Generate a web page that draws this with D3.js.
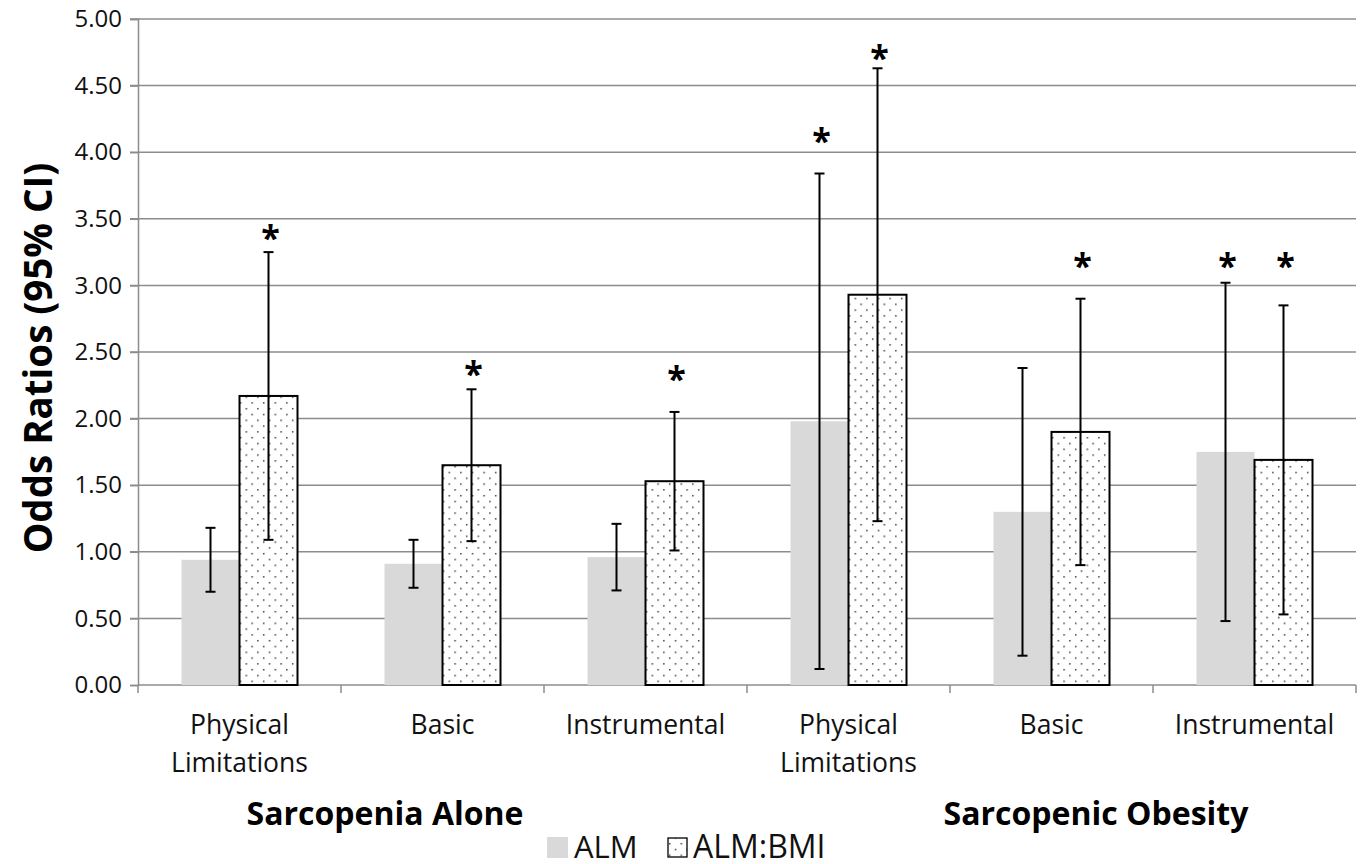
<!DOCTYPE html>
<html>
<head>
<meta charset="utf-8">
<script src="https://cdn.jsdelivr.net/npm/d3@7"></script>
<style>
  body { margin: 0; background: #fff; }
  svg { display: block; font-family: "Open Sans", sans-serif; }
</style>
</head>
<body>
<svg id="chart" width="1363" height="864"></svg>
<script>
// categories and series
const categories = ["Physical Limitations", "Basic", "Instrumental", "Physical Limitations ", "Basic ", "Instrumental "];
const catLines = [["Physical", "Limitations"], ["Basic"], ["Instrumental"], ["Physical", "Limitations"], ["Basic"], ["Instrumental"]];
const series = ["ALM", "ALM:BMI"];
const almOR = [0.94, 0.91, 0.96, 1.98, 1.30, 1.75];
const almLo = [0.70, 0.73, 0.71, 0.12, 0.22, 0.48];
const almHi = [1.18, 1.09, 1.21, 3.84, 2.38, 3.02];
const bmiOR = [2.17, 1.65, 1.53, 2.93, 1.90, 1.69];
const bmiLo = [1.09, 1.08, 1.01, 1.23, 0.90, 0.53];
const bmiHi = [3.25, 2.22, 2.05, 4.63, 2.90, 2.85];
// asterisk heights (value units), null = none
const almStar = [null, null, null, 4.14, null, 3.20];
const bmiStar = [3.41, 2.39, 2.35, 4.76, 3.20, 3.20];
const yTicks = [0, 0.5, 1, 1.5, 2, 2.5, 3, 3.5, 4, 4.5, 5];
const groups = ["Sarcopenia Alone", "Sarcopenic Obesity"];

const svg = d3.select("#chart");
const mLeft = 138, mRight = 1356, mTop = 19, mBottom = 685;

const x = d3.scaleBand().domain(categories).range([mLeft, mRight]);
const xs = d3.scaleBand().domain(series).range([0, x.bandwidth()]).paddingInner(0).paddingOuter(0.75);
const y = d3.scaleLinear().domain([0, 5]).range([mBottom, mTop]);

const defs = svg.append("defs");
const pat = defs.append("pattern").attr("id", "dots").attr("patternUnits", "userSpaceOnUse")
  .attr("width", 11.6).attr("height", 11.6);
pat.append("rect").attr("width", 11.6).attr("height", 11.6).attr("fill", "#fff");
pat.append("rect").attr("x", 2).attr("y", 2).attr("width", 1.4).attr("height", 1.4).attr("fill", "#222");
pat.append("rect").attr("x", 7.8).attr("y", 7.8).attr("width", 1.4).attr("height", 1.4).attr("fill", "#222");

// gridlines
svg.append("g").selectAll("line").data(yTicks.filter(d => d > 0)).join("line")
  .attr("x1", mLeft - 8).attr("x2", mRight).attr("y1", d => y(d)).attr("y2", d => y(d))
  .attr("stroke", "#8c8c8c").attr("stroke-width", 1.5);

// y axis
const yAxis = svg.append("g").attr("transform", `translate(${mLeft},0)`)
  .call(d3.axisLeft(y).tickValues(yTicks).tickFormat(d3.format(".2f")).tickSize(8).tickPadding(8));
yAxis.select(".domain").attr("stroke", "#8c8c8c").attr("stroke-width", 1.5);
yAxis.selectAll(".tick line").attr("stroke", "#8c8c8c").attr("stroke-width", 1.5);
yAxis.selectAll(".tick text").attr("font-size", 24).attr("fill", "#111").attr("font-family", "Open Sans");

// x axis line and boundary ticks
svg.append("line").attr("x1", mLeft).attr("x2", mRight).attr("y1", mBottom).attr("y2", mBottom)
  .attr("stroke", "#8c8c8c").attr("stroke-width", 1.5);
svg.append("g").selectAll("line").data(d3.range(categories.length + 1)).join("line")
  .attr("x1", i => mLeft + i * x.step()).attr("x2", i => mLeft + i * x.step())
  .attr("y1", mBottom).attr("y2", mBottom + 8)
  .attr("stroke", "#8c8c8c").attr("stroke-width", 1.5);

// bars
const rows = categories.map((c, i) => ({ c, i }));
const g = svg.append("g");
g.selectAll(".alm").data(rows).join("rect")
  .attr("x", d => x(d.c) + xs("ALM")).attr("width", xs.bandwidth())
  .attr("y", d => y(almOR[d.i])).attr("height", d => y(0) - y(almOR[d.i]))
  .attr("fill", "#d9d9d9");
g.selectAll(".bmi").data(rows).join("rect")
  .attr("x", d => x(d.c) + xs("ALM:BMI")).attr("width", xs.bandwidth())
  .attr("y", d => y(bmiOR[d.i])).attr("height", d => y(0) - y(bmiOR[d.i]))
  .attr("fill", "url(#dots)").attr("stroke", "#000").attr("stroke-width", 2);

// error bars
function errBars(key, lo, hi, star) {
  const eb = svg.append("g").attr("stroke", "#000").attr("stroke-width", 2);
  rows.forEach(d => {
    const cx = x(d.c) + xs(key) + xs.bandwidth() / 2;
    eb.append("line").attr("x1", cx).attr("x2", cx).attr("y1", y(lo[d.i])).attr("y2", y(hi[d.i]));
    eb.append("line").attr("x1", cx - 5).attr("x2", cx + 5).attr("y1", y(lo[d.i])).attr("y2", y(lo[d.i]));
    eb.append("line").attr("x1", cx - 5).attr("x2", cx + 5).attr("y1", y(hi[d.i])).attr("y2", y(hi[d.i]));
    if (star[d.i] != null) {
      svg.append("text").attr("x", cx + 2).attr("y", y(star[d.i]) + 19)
        .attr("text-anchor", "middle").attr("font-size", 34).attr("font-weight", "bold")
        .attr("font-family", "Open Sans").attr("fill", "#000").text("*");
    }
  });
}
errBars("ALM", almLo, almHi, almStar);
errBars("ALM:BMI", bmiLo, bmiHi, bmiStar);

// category labels
const cl = svg.append("g");
rows.forEach(d => {
  const t = cl.append("text").attr("text-anchor", "middle").attr("font-size", 26.5).attr("fill", "#111");
  catLines[d.i].forEach((s, k) => {
    t.append("tspan").attr("x", x(d.c) + x.bandwidth() / 2).attr("y", 734 + k * 38).text(s);
  });
});

// group labels
svg.selectAll(".grp").data(groups).join("text")
  .attr("x", (d, i) => [385, 1096][i]).attr("y", 825)
  .attr("text-anchor", "middle").attr("font-size", 32).attr("font-weight", "bold").attr("fill", "#000")
  .text(d => d);

// y title
svg.append("text").attr("transform", `translate(52,358) rotate(-90)`)
  .attr("text-anchor", "middle").attr("font-size", 38.5).attr("font-weight", "bold").attr("fill", "#000")
  .text("Odds Ratios (95% CI)");

// legend
const lg = svg.append("g");
lg.append("rect").attr("x", 547).attr("y", 837).attr("width", 21).attr("height", 21).attr("fill", "#d9d9d9");
lg.append("text").attr("x", 574).attr("y", 858).attr("font-size", 31).attr("fill", "#111").text(series[0]);
lg.append("rect").attr("x", 668).attr("y", 838).attr("width", 19).attr("height", 19)
  .attr("fill", "url(#dots)").attr("stroke", "#000").attr("stroke-width", 1.3);
lg.append("text").attr("x", 693).attr("y", 858).attr("font-size", 32).attr("fill", "#111").text(series[1]);
</script>
</body>
</html>
